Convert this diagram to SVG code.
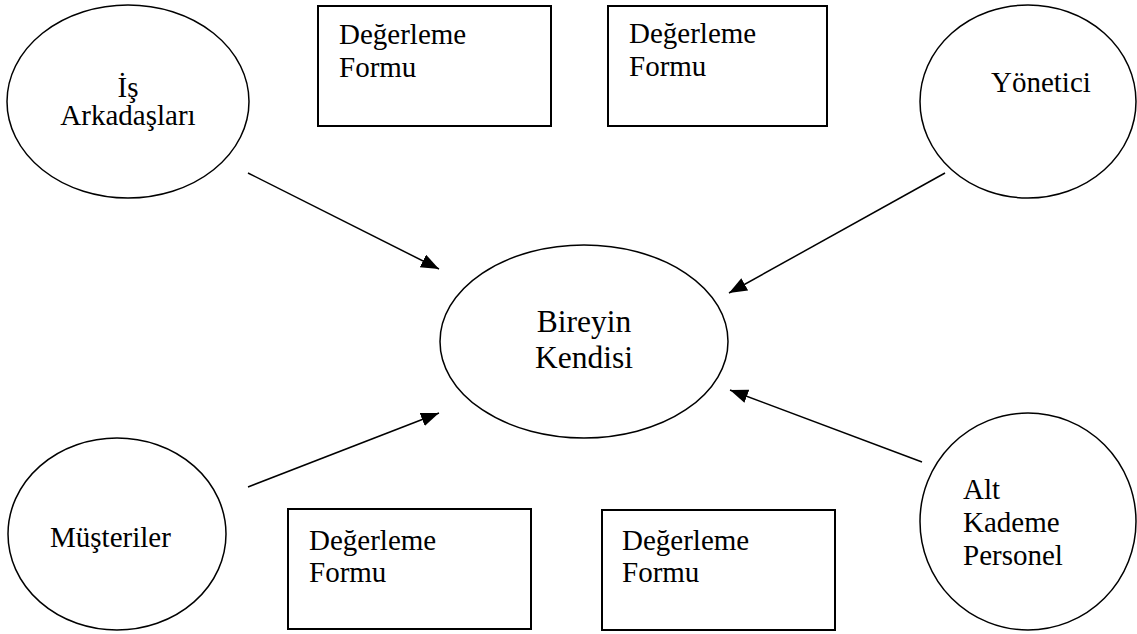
<svg xmlns="http://www.w3.org/2000/svg" width="1137" height="634" viewBox="0 0 1137 634">
  <style>
    .node { fill: #ffffff; stroke: #000000; stroke-width: 1.5; }
    .box { fill: #ffffff; stroke: #000000; stroke-width: 2; }
    .lbl { font-family: "Liberation Serif", "Times New Roman", serif; font-size: 29px; fill: #000000; }
    .mid { text-anchor: middle; }
    .big { font-size: 31.5px; }
    .edge { stroke: #000000; stroke-width: 1.5; fill: none; marker-end: url(#arrow); }
  </style>
  <defs>
    <marker id="arrow" markerUnits="userSpaceOnUse" markerWidth="20" markerHeight="16" refX="18" refY="7" orient="auto">
      <path d="M0,0 L18,7 L0,14 Z" fill="#000000"/>
    </marker>
  </defs>
  <rect width="1137" height="634" fill="#ffffff"/>

  <g id="connectors">
    <line class="edge" x1="248" y1="173" x2="439" y2="269"/>
    <line class="edge" x1="945" y1="173" x2="729" y2="293"/>
    <line class="edge" x1="248" y1="487" x2="439" y2="413"/>
    <line class="edge" x1="922" y1="462" x2="730" y2="390"/>
  </g>

  <g id="is-arkadaslari">
    <ellipse class="node" cx="128" cy="101.5" rx="121" ry="96.5"/>
    <text class="lbl mid" x="128" y="97">İş</text>
    <text class="lbl mid" x="128" y="125">Arkadaşları</text>
  </g>

  <g id="form-1">
    <rect class="box" x="318" y="6" width="233" height="120"/>
    <text class="lbl" x="339" y="44">Değerleme</text>
    <text class="lbl" x="339" y="77">Formu</text>
  </g>

  <g id="form-2">
    <rect class="box" x="608" y="6" width="219" height="120"/>
    <text class="lbl" x="629" y="43">Değerleme</text>
    <text class="lbl" x="629" y="76">Formu</text>
  </g>

  <g id="yonetici">
    <ellipse class="node" cx="1028" cy="101.5" rx="108" ry="96.5"/>
    <text class="lbl" x="991" y="92">Yönetici</text>
  </g>

  <g id="bireyin-kendisi">
    <ellipse class="node" cx="584" cy="341.5" rx="144" ry="96.5"/>
    <text class="lbl big mid" x="584" y="332">Bireyin</text>
    <text class="lbl big mid" x="584" y="368">Kendisi</text>
  </g>

  <g id="musteriler">
    <ellipse class="node" cx="117" cy="534" rx="109" ry="96"/>
    <text class="lbl" x="50" y="547">Müşteriler</text>
  </g>

  <g id="form-3">
    <rect class="box" x="288" y="509" width="243" height="120"/>
    <text class="lbl" x="309" y="550">Değerleme</text>
    <text class="lbl" x="309" y="582">Formu</text>
  </g>

  <g id="form-4">
    <rect class="box" x="602" y="510" width="233" height="120"/>
    <text class="lbl" x="622" y="550">Değerleme</text>
    <text class="lbl" x="622" y="582">Formu</text>
  </g>

  <g id="alt-kademe-personel">
    <ellipse class="node" cx="1028" cy="521.5" rx="108" ry="108.5"/>
    <text class="lbl" x="963" y="499">Alt</text>
    <text class="lbl" x="963" y="532">Kademe</text>
    <text class="lbl" x="963" y="565">Personel</text>
  </g>
</svg>
